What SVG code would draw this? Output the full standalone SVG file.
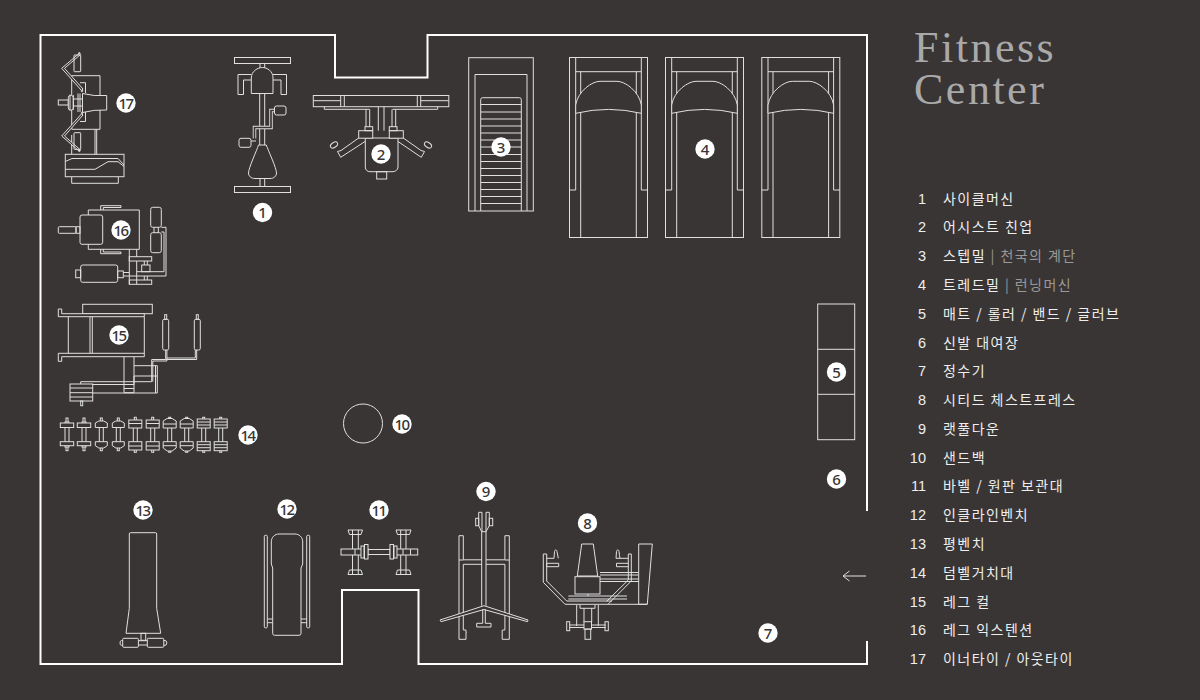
<svg xmlns="http://www.w3.org/2000/svg" xmlns:xlink="http://www.w3.org/1999/xlink" width="1200" height="700" viewBox="0 0 1200 700">
<style>
.l{fill:none;stroke:#e0e0e0;stroke-width:1}
.f{fill:#393534;stroke:#e0e0e0;stroke-width:1}
.wall{fill:none;stroke:#fff;stroke-width:2}
.bd{fill:#fff}
.bt{font:500 15px "Noto Sans","Liberation Sans",sans-serif;fill:#393534;text-anchor:middle}
.tt{font:44px "Liberation Serif",serif;fill:#a9a9a9;letter-spacing:2.5px}
.n{font:14.500px "Liberation Sans",sans-serif;fill:#eee;text-anchor:end}
.k{font:14px "Noto Sans CJK KR","Noto Sans",sans-serif;fill:#eee;letter-spacing:1.45px}
.g{fill:#999}
</style>
<defs>
<g id="tm" class="l">
<rect x="569.500" y="57.500" width="78" height="180"/>
<path d="M575.700 57.500V190H569.500M641.300 57.500V190H647.500M575.700 71.700H641.300M580.700 71.700V237.500M636.300 71.700V237.500"/>
<path class="f" d="M575.700 113.300V105C578 91 592 81.300 600 81.300H617C625 81.300 639 91 641.300 105V113.300Q608.500 105.500 575.700 113.300Z"/>
</g>
<g id="db1"><rect class="f" x="-1" y="-5" width="2" height="32.700"/><rect class="f" x="-2" y="-1" width="4" height="25"/><rect class="f" x="-6.700" y="0" width="13.400" height="4.500"/><rect class="f" x="-6.700" y="18.700" width="13.400" height="4"/></g>
<g id="db2"><rect class="f" x="-1" y="-5" width="2" height="32.700"/><rect class="f" x="-2" y="-1" width="4" height="25"/><path class="f" d="M-2.500 -2H2.500L6 0V4.500H-6V0Z"/><path class="f" d="M-6 18.700H6V22.700L2.500 25H-2.500L-6 22.700Z"/></g>
<g id="db3"><rect class="f" x="-1" y="-5.700" width="2" height="35"/><rect class="f" x="-2" y="-1" width="4" height="25"/><rect class="f" x="-6.500" y="-3" width="13" height="8"/><rect class="f" x="-6.500" y="18.700" width="13" height="8.300"/><path class="l" d="M-6.500 .5H6.500M-6.500 23H6.500"/></g>
<g id="db4"><rect class="f" x="-1" y="-5.700" width="2" height="35"/><rect class="f" x="-2" y="-1" width="4" height="25"/><path class="f" d="M-2.500 -4.500H2.500L6.500 -2V5H-6.500V-2Z"/><path class="f" d="M-6.500 18.700H6.500V25L2.500 28H-2.500L-6.500 25Z"/><path class="l" d="M-6.500 1H6.500M-6.500 22.700H6.500"/></g>
<g id="db5"><rect class="f" x="-1" y="-5.700" width="2" height="35"/><rect class="f" x="-2" y="-1" width="4" height="25"/><rect class="f" x="-6.500" y="-4" width="13" height="9"/><rect class="f" x="-6.500" y="18.700" width="13" height="9"/><path class="l" d="M-6.500 -1H6.500M-6.500 2H6.500M-6.500 21.700H6.500M-6.500 24.700H6.500"/></g>
</defs>
<rect id="background" width="1200" height="700" fill="#393534"/>

<g id="walls">
<path class="wall" d="M867 511V35H427.500V77.500H335V35H40.500V664H342V590H418.500V664H867V641"/>
</g>

<g id="connectors">
<path class="l" d="M866 576H843M849.500 571L843 576L849.500 581"/>
</g>

<g id="node-1" class="l">
<rect x="234.500" y="57.500" width="56" height="6"/>
<rect x="234.500" y="186.500" width="56" height="6"/>
<path d="M260 63.500V69M264.700 63.500V69M260 178V186.500M264.700 178V186.500"/>
<path d="M251.300 80H243.500V94.500H238V74.500H251.300M273 80H281V94.500H286.500V74.500H273"/>
<path class="f" d="M251.300 93.500V78C251.300 71 258 67.500 262.300 67.500C267 67.500 273 71 273 78V93.500Z"/>
<path d="M259.700 93.500V145M264.700 93.500V145"/>
<path stroke="#e0e0e0" stroke-width="3.500" d="M274.500 110.500H271V127.500H254.500V138.500"/>
<path stroke="#393534" stroke-width="1.700" d="M275 110.500H271V127.500H254.500V139"/>
<rect class="f" x="274.500" y="106" width="11.500" height="9" rx="2"/>
<rect class="f" x="239" y="138.300" width="12" height="9" rx="2"/>
<path d="M251 141H256"/>
<path class="f" d="M258.500 145H266.300C268 150 276.500 168 276.500 173C276.500 176 274 178.500 270 178.500H255C251 178.500 248.500 176 248.500 173C248.500 168 257 150 258.500 145Z"/>
</g>

<g id="node-2" class="l">
<rect x="313.300" y="95.500" width="135.500" height="11.200"/>
<path d="M340.700 95.500V106.700M344.300 95.500V106.700M417.300 95.500V106.700M420.700 95.500V106.700M313.300 100.700H340.700M420.700 100.700H448.800"/>
<path d="M324.300 106.700V109.300H369.500M437.700 106.700V109.300H392.500"/>
<path d="M366 109.300V127M369.700 109.300V127M378.300 106.700V130.700M384 106.700V130.700M392 109.300V127M395.700 109.300V127"/>
<path class="f" d="M365.300 138H398V167C398 170 395 171.700 393 171.700H370C367.500 171.700 365.300 170 365.300 167Z"/>
<rect x="376.700" y="171.700" width="10" height="7.300"/>
<rect class="f" x="358.700" y="130.700" width="14" height="7.500"/>
<rect class="f" x="389.300" y="130.700" width="14" height="7.500"/>
<rect x="365" y="126.700" width="7.700" height="4"/>
<rect x="389.300" y="126.700" width="7.700" height="4"/>
<path d="M358.700 138L341 150.500L337.500 151.500L340.700 157.300L365 141.500M403.300 138L421 150.500L424.500 151.500L421.300 157.300L398 141.500"/>
<ellipse cx="334" cy="145" rx="4" ry="2.400" transform="rotate(-35 334 145)"/>
<ellipse cx="428" cy="145" rx="4" ry="2.400" transform="rotate(35 428 145)"/>
</g>

<g id="node-3" class="l">
<rect x="468.700" y="57.700" width="64.600" height="153.300"/>
<path d="M475 211V74.500H527V211"/>
<path d="M480.700 211V99.700Q480.700 97.700 482.700 97.700H519.300Q521.300 97.700 521.300 99.700V211"/>
<path d="M480.700 104.500H521.300M480.700 112H521.300M480.700 119H521.300M480.700 126H521.300M480.700 133H521.300M480.700 140H521.300M480.700 147H521.300M480.700 154.500H521.300M480.700 161.500H521.300M480.700 168.500H521.300M480.700 175.500H521.300M480.700 182.500H521.300M480.700 189.500H521.300M480.700 196.500H521.300M480.700 203.500H521.300"/>
</g>

<g id="node-4">
<use xlink:href="#tm" href="#tm"/>
<use xlink:href="#tm" href="#tm" x="96"/>
<use xlink:href="#tm" href="#tm" x="192.300"/>
</g>

<g id="node-5" class="l">
<rect x="817.700" y="304" width="37" height="135.700"/>
<path d="M817.700 349.300H854.700M817.700 394.300H854.700"/>
</g>

<g id="node-8" class="l">
<path d="M581.700 544H593.300L597.700 576H577.300Z"/>
<path d="M600 572.500H638.700M600 575H638.700M600 579H638.700M600 581.500H638.700"/>
<path d="M638.700 544H652.300L647.300 604.300H638.700Z"/>
<rect x="575" y="576.700" width="25" height="17.300"/>
<path d="M588 594V596"/>
<path d="M568.300 596H627M568.300 599H627"/>
<path d="M543.300 554V582.300L565 604.300H647.300M546.700 554V581L566.700 601H612"/>
<path d="M543.300 554H546.700M631.300 554V581L608 604.300M628.300 554V580L606.500 601.500M628.300 554H631.300"/>
<path d="M546.700 558.300H554L554.500 551.500C554.500 549.500 557 549.500 557 551.500L558.300 558.300"/>
<path d="M546.700 563.300V566.700H558.700V563.300H546.700Z"/>
<path d="M628.300 558.300H616L616.500 551.500C616.500 549.500 619 549.500 619 551.500L619.500 555.500L620 558.300"/>
<path d="M628.300 563.300H616.500V566.700H628.300"/>
<path d="M576.700 605V626M598.300 605V626M580 605V608.300H595V605M584 608.300V622M591.700 608.300V622"/>
<rect x="584" y="621.700" width="7.500" height="7.500"/>
<rect x="585" y="629" width="5.700" height="10.300"/>
<path d="M569.300 625H584M569.300 627.500H584M591.500 625H605.700M591.500 627.500H605.700"/>
<rect x="566.700" y="621.700" width="3" height="9"/>
<rect x="605" y="621.700" width="3.300" height="9"/>
</g>

<g id="node-9" class="l">
<path d="M478.700 512.300H482V531.700M478.700 512.300V525.700M489.300 512.300H486V531.700M489.300 512.300V525.700"/>
<rect x="475.700" y="518.300" width="3" height="7.400"/>
<rect x="489.300" y="518.300" width="3.400" height="7.400"/>
<path d="M478.700 525.700L481.700 531.700H486L489.300 525.700"/>
<path d="M481.700 531.700V605.700M486 531.700V605.700"/>
<path d="M459 535.700H463.300V559.800H481.700M463.300 564.300V630H466V632.700M459 535.700V639.300H466V632.700H466.500M463.300 564.300H481.700M459 560H463.300"/>
<path d="M509.300 535.700H504.900V559.800H486M504.900 564.300V630H502.500M509.300 535.700V639.300H502.200V630M504.900 564.300H486M509.300 560H504.900"/>
<path class="f" d="M484 605.700L440 620L441 621.700L484 609.500L527.500 621.700L528 620Z"/>
<path d="M482.700 609.500V623.300H476.700V627H491V623.300H485.300V609.500"/>
</g>

<g id="node-10" class="l"><circle cx="363" cy="423.500" r="19.500"/></g>

<g id="node-11" class="l">
<path d="M348 530H362.500L361 534.500H349.500Z"/>
<path d="M396 530H411L409.500 534.500H397.500Z"/>
<path d="M349.500 570H361L362.500 574.500H348Z"/>
<path d="M397.500 570H409.500L411 574.500H396Z"/>
<path d="M352.500 530V574.500M358.300 530V574.500M400.700 530V574.500M406 530V574.500"/>
<rect class="f" x="341" y="549" width="27" height="6"/>
<rect class="f" x="390" y="549" width="27.700" height="6"/>
<rect class="f" x="368" y="549.500" width="22" height="5"/>
<path d="M355 549V555M410.500 549V555M403 549V555M362 549V555"/>
<rect class="f" x="361" y="546" width="3" height="12"/>
<rect class="f" x="364.500" y="544.500" width="3.500" height="14.500"/>
<rect class="f" x="390" y="544.500" width="3.500" height="14.500"/>
<rect class="f" x="394" y="546" width="3" height="12"/>
</g>

<g id="node-12" class="l">
<rect x="264.300" y="535.300" width="3" height="92.500" rx="1"/>
<rect x="306.700" y="535.300" width="3" height="92.500" rx="1"/>
<path d="M267.300 619H272.700M267.300 622.700H272.700M301 619H306.700M301 622.700H306.700"/>
<path d="M271.300 542C271.300 537 275 534 279 534H295C299 534 302.700 537 302.700 542V564L301 568V633.500Q301 635.300 299 635.300H274.700Q272.700 635.300 272.700 633.500V568L271.300 564Z"/>
</g>

<g id="node-13" class="l">
<path d="M129.300 534Q129.300 532.700 130.500 532.700H155.500Q156.700 532.700 156.700 534V608.300L160.700 633.300H126L129.300 608.300Z"/>
<rect x="141" y="633.300" width="4.700" height="7"/>
<rect x="122.700" y="638.300" width="15.700" height="9" rx="1"/>
<rect x="147.300" y="638.300" width="16.500" height="9" rx="1"/>
<path d="M122.700 640.500H121.500Q120 640.500 120 643Q120 645.300 121.500 645.300H122.700M163.800 640.500H165Q166.800 640.500 166.800 643Q166.800 645.300 165 645.300H163.800"/>
<path d="M138.300 640.700H147.300M138.300 645H147.300"/>
</g>

<g id="node-14">
<use xlink:href="#db1" href="#db1" x="67" y="423"/>
<use xlink:href="#db1" href="#db1" x="84" y="423"/>
<use xlink:href="#db2" href="#db2" x="101.300" y="423"/>
<use xlink:href="#db2" href="#db2" x="118.300" y="423"/>
<use xlink:href="#db3" href="#db3" x="135.300" y="423"/>
<use xlink:href="#db3" href="#db3" x="152.700" y="423"/>
<use xlink:href="#db4" href="#db4" x="169.700" y="423"/>
<use xlink:href="#db4" href="#db4" x="186.700" y="423"/>
<use xlink:href="#db5" href="#db5" x="203.700" y="423"/>
<use xlink:href="#db5" href="#db5" x="220.700" y="423"/>
</g>

<g id="node-15" class="l">
<rect x="82.700" y="304.300" width="69.600" height="9.400"/>
<path class="f" d="M58.300 309H61.700V313.700H144.300V316.700H58.300Z"/>
<path class="f" d="M58.300 361.300H61.700V356.700H144.300V353.300H58.300Z"/>
<path d="M68.300 316.700V353.300M90 316.700V353.300M92.300 316.700V353.300M144.300 316.700V353.300"/>
<path d="M124 356.700V392.700H134V356.700M124 388.500H134M134 365.700H157.300V393H92.700M155.500 365.700V393M134 384.500V376H157.300M92.700 384.500H134"/>
<path d="M80.700 384V381.700H151.700V359.500H165.700V350M152.800 381.700V361H166.900V350"/>
<path d="M165.700 359.500H196.700V350M166.900 358H195.300V350"/>
<rect x="70" y="384" width="22.700" height="17"/>
<path d="M70 388H92.700M70 392.700H92.700M70 397H92.700"/>
<rect x="80.700" y="401" width="2" height="4.700"/>
<rect x="162.700" y="319.300" width="6" height="30.700" rx="1.500"/>
<rect x="194.300" y="319.300" width="6" height="30.700" rx="1.500"/>
<rect x="164.700" y="314.700" width="2" height="4.600"/>
<rect x="196.300" y="314.700" width="2" height="4.600"/>
</g>

<g id="node-16" class="l">
<path d="M100.700 210V205.700H121V207.500H103.300V210M100.700 249.300V253.700H121V252H103.300V249.300"/>
<path d="M88.300 215V210H139.300V249.300H88.300V244.300"/>
<rect class="f" x="80" y="215" width="22.700" height="29.300" rx="2"/>
<rect x="58.300" y="226.700" width="17.700" height="6.600" rx="1"/>
<rect x="76" y="226.700" width="4" height="6.600"/>
<rect x="150.700" y="207.300" width="10.600" height="20" rx="2"/>
<rect x="150.700" y="232.700" width="10.600" height="20" rx="2"/>
<path d="M154 227.300V232.700M158.300 227.300V232.700"/>
<path d="M161.300 227.300H166V276H129.300M161.300 232H164V271.700H136.700"/>
<path d="M129.300 249.300V284.300M136.700 249.300V256.700M136.700 261V284.300"/>
<rect x="129.300" y="256.700" width="22.400" height="4.300"/>
<rect x="129.300" y="280" width="22.400" height="4.300"/>
<path d="M144.300 261V265M147.300 261V265M144.300 276V280M147.300 276V280"/>
<rect x="141.700" y="265" width="8.300" height="6.700"/>
<rect x="80.700" y="265" width="37" height="17.300" rx="2"/>
<rect x="75.700" y="270" width="5" height="7.700"/>
<rect x="117.700" y="271" width="5.600" height="6.700"/>
<path d="M123.300 272.500H129.300M123.300 276H129.300"/>
</g>

<g id="node-17" class="l">
<rect x="65.300" y="154.300" width="58.700" height="22.400"/>
<path d="M65.300 161.500L72 158.500H118L124 165M65.300 169.300H95L108 161.700H118L124 166.500"/>
<path d="M71.700 177V183.300H118.300V177"/>
<path d="M71.700 154.300V135M95 154.300V129.300M96.700 154.300V129.300M72 129.300H100V109M100 95.500V75.700H71.700V95M71.700 129.300V110"/>
<path d="M80 82.700H85.500V93M76.500 85V82.700M85.500 109V121.500H80M76.500 121.500V119"/>
<path class="f" d="M79.300 53.300L61.700 68.300L81.700 90.700L83 89L64.500 68.300L80.500 54.500Z"/>
<path class="f" d="M81.700 113.700L61.700 136L79 151L80.500 150L64.500 136L83 115Z"/>
<rect x="74" y="55" width="6.700" height="16.700" rx=".5"/>
<rect x="74" y="132.700" width="6.700" height="16.700" rx=".5"/>
<circle cx="79.300" cy="53.300" r=".8"/><circle cx="79.300" cy="150.700" r=".8"/><circle cx="82" cy="91" r=".8"/><circle cx="82" cy="113" r=".8"/>
<path class="f" d="M82.500 93.500Q94 96.500 106.700 95.500V110Q94 109.500 82.500 112.500Z"/>
<rect x="58.300" y="100" width="10" height="5"/>
<rect class="f" x="68.300" y="95.500" width="5" height="14.500" rx="2"/>
<path d="M70 94.500V110.700M73.300 95V110M73.300 99H82.500M73.300 106H82.500M78 93.500V112M80 93.500V112"/>
</g>

<g id="badges">
<g><circle class="bd" cx="262.500" cy="212.500" r="9.700"/><text class="bt" x="262.500" y="218">1</text></g>
<g><circle class="bd" cx="381" cy="154" r="9.700"/><text class="bt" x="381" y="159.500">2</text></g>
<g><circle class="bd" cx="501" cy="147" r="9.700"/><text class="bt" x="501" y="152.500">3</text></g>
<g><circle class="bd" cx="705" cy="149" r="9.700"/><text class="bt" x="705" y="154.500">4</text></g>
<g><circle class="bd" cx="836.500" cy="372" r="9.700"/><text class="bt" x="836.500" y="377.500">5</text></g>
<g><circle class="bd" cx="836.500" cy="479" r="9.700"/><text class="bt" x="836.500" y="484.500">6</text></g>
<g><circle class="bd" cx="768" cy="633" r="9.700"/><text class="bt" x="768" y="638.500">7</text></g>
<g><circle class="bd" cx="587.500" cy="523" r="9.700"/><text class="bt" x="587.500" y="528.500">8</text></g>
<g><circle class="bd" cx="486" cy="491.500" r="9.700"/><text class="bt" x="486" y="497">9</text></g>
<g><circle class="bd" cx="402" cy="424" r="9.700"/><text class="bt" x="401.500" y="429.500" letter-spacing="-1.500">10</text></g>
<g><circle class="bd" cx="379" cy="510" r="9.700"/><text class="bt" x="378.500" y="515.500" letter-spacing="-1.500">11</text></g>
<g><circle class="bd" cx="287" cy="509" r="9.700"/><text class="bt" x="286.500" y="514.500" letter-spacing="-1.500">12</text></g>
<g><circle class="bd" cx="143" cy="510" r="9.700"/><text class="bt" x="142.500" y="515.500" letter-spacing="-1.500">13</text></g>
<g><circle class="bd" cx="248" cy="435" r="9.700"/><text class="bt" x="247.500" y="440.500" letter-spacing="-1.500">14</text></g>
<g><circle class="bd" cx="119" cy="335" r="9.700"/><text class="bt" x="118.500" y="340.500" letter-spacing="-1.500">15</text></g>
<g><circle class="bd" cx="121" cy="230" r="9.700"/><text class="bt" x="120.500" y="235.500" letter-spacing="-1.500">16</text></g>
<g><circle class="bd" cx="126" cy="103" r="9.700"/><text class="bt" x="125.500" y="108.500" letter-spacing="-1.500">17</text></g>
</g>

<g id="title">
<text class="tt" x="914" y="62">Fitness</text>
<text class="tt" x="914" y="103.500">Center</text>
</g>

<g id="legend" transform="translate(0,-1)">
<text class="n" x="926" y="204.500">1</text><text class="k" x="943" y="204.500">사이클머신</text>
<text class="n" x="926" y="233">2</text><text class="k" x="943" y="233">어시스트 친업</text>
<text class="n" x="926" y="262">3</text><text class="k" x="943" y="262">스텝밀 <tspan class="g">| 천국의 계단</tspan></text>
<text class="n" x="926" y="291">4</text><text class="k" x="943" y="291">트레드밀 <tspan class="g">| 런닝머신</tspan></text>
<text class="n" x="926" y="320">5</text><text class="k" x="943" y="320">매트 / 롤러 / 밴드 / 글러브</text>
<text class="n" x="926" y="348.500">6</text><text class="k" x="943" y="348.500">신발 대여장</text>
<text class="n" x="926" y="377">7</text><text class="k" x="943" y="377">정수기</text>
<text class="n" x="926" y="406">8</text><text class="k" x="943" y="406">시티드 체스트프레스</text>
<text class="n" x="926" y="435">9</text><text class="k" x="943" y="435">랫풀다운</text>
<text class="n" x="926" y="463.500">10</text><text class="k" x="943" y="463.500">샌드백</text>
<text class="n" x="926" y="492">11</text><text class="k" x="943" y="492">바벨 / 원판 보관대</text>
<text class="n" x="926" y="521">12</text><text class="k" x="943" y="521">인클라인벤치</text>
<text class="n" x="926" y="550">13</text><text class="k" x="943" y="550">평벤치</text>
<text class="n" x="926" y="579">14</text><text class="k" x="943" y="579">덤벨거치대</text>
<text class="n" x="926" y="607.500">15</text><text class="k" x="943" y="607.500">레그 컬</text>
<text class="n" x="926" y="636">16</text><text class="k" x="943" y="636">레그 익스텐션</text>
<text class="n" x="926" y="665">17</text><text class="k" x="943" y="665">이너타이 / 아웃타이</text>
</g>
</svg>
